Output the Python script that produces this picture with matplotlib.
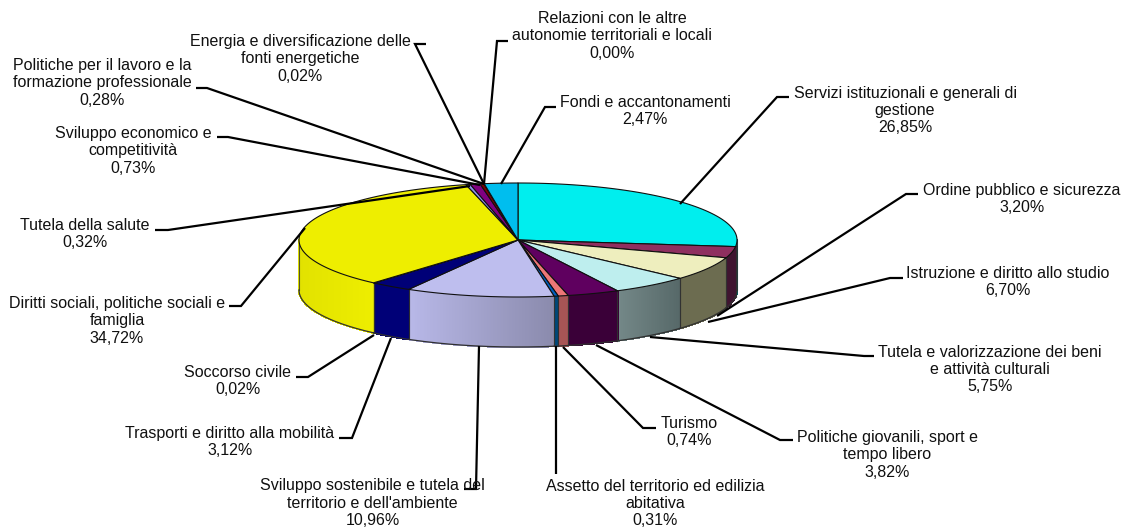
import numpy as np
import matplotlib
matplotlib.use("Agg")
import matplotlib.pyplot as plt
from matplotlib.patches import Polygon
from matplotlib.collections import PolyCollection
from matplotlib.colors import to_rgb

plt.rcParams['font.family'] = ['Liberation Sans', 'DejaVu Sans']

categories = [
    "Servizi istituzionali e generali di\ngestione",
    "Ordine pubblico e sicurezza",
    "Istruzione e diritto allo studio",
    "Tutela e valorizzazione dei beni\ne attività culturali",
    "Politiche giovanili, sport e\ntempo libero",
    "Turismo",
    "Assetto del territorio ed edilizia\nabitativa",
    "Sviluppo sostenibile e tutela del\nterritorio e dell'ambiente",
    "Trasporti e diritto alla mobilità",
    "Soccorso civile",
    "Diritti sociali, politiche sociali e\nfamiglia",
    "Tutela della salute",
    "Sviluppo economico e\ncompetitività",
    "Politiche per il lavoro e la\nformazione professionale",
    "Energia e diversificazione delle\nfonti energetiche",
    "Relazioni con le altre\nautonomie territoriali e locali",
    "Fondi e accantonamenti",
]
values = [26.85, 3.20, 6.70, 5.75, 3.82, 0.74, 0.31, 10.96, 3.12, 0.02,
          34.72, 0.32, 0.73, 0.28, 0.02, 0.00, 2.47]

top_colors = ["#00EEEE", "#8F2F5F", "#EEEEBE", "#BEEEEE", "#5F005F", "#EE7777",
              "#005FBE", "#BEBEEE", "#000077", "#EE00EE", "#EEEE00", "#8F8FEE",
              "#800080", "#800000", "#008080", "#0000EE", "#00BEEE"]
side_left = ["#006868", "#401430", "#6C6C50", "#748888", "#3A0038", "#A85555",
             "#004878", "#B8B8E8", "#000077", "#700070", "#E2E200", "#555590",
             "#500050", "#500000", "#005050", "#000080", "#007090"]
side_right = ["#006868", "#401430", "#6C6C50", "#566868", "#3A0038", "#A85555",
              "#004878", "#8A8AAC", "#000077", "#700070", "#EEEE00", "#555590",
              "#500050", "#500000", "#005050", "#000080", "#007090"]

label_pos = [(905, 110.5), (1022, 199), (1008, 282), (990, 369.5), (887.5, 455),
             (689, 432), (655, 503.5), (372.5, 503), (230, 442), (238, 381),
             (117, 321), (85, 234), (133, 151), (102, 83), (300, 59),
             (612, 36), (645, 111)]
leaders = [
    [(789, 97), (777, 97), (680, 204)],
    [(918, 194), (906, 194), (717, 316)],
    [(903, 278), (890, 278), (708, 322)],
    [(874, 356), (864, 356), (650, 337)],
    [(793, 440), (780, 440), (596, 345)],
    [(656, 428), (643, 428), (563, 347)],
    [(556, 346), (556, 474)],
    [(479, 346), (476, 489), (464, 489)],
    [(339, 438), (352, 438), (391, 338)],
    [(296, 377), (308, 377), (374, 335)],
    [(229, 306), (241, 306), (305, 228)],
    [(155, 230), (168, 230), (470, 186)],
    [(217, 137), (228, 137), (480, 185)],
    [(196, 88), (207, 88), (484, 184)],
    [(426, 44), (415, 44), (484, 184)],
    [(508, 41), (497, 41), (484, 184)],
    [(556, 107), (545, 107), (501, 184)],
]

CX, CY, RX, RY, DEPTH = 518, 240, 219, 57, 50

fig = plt.figure(figsize=(11.31, 5.30), dpi=100, facecolor="white")
ax = fig.add_axes([0, 0, 1, 1])
ax.set_xlim(0, 1131)
ax.set_ylim(530, 0)
ax.axis("off")


def px(t):
    return CX + RX * np.sin(t), CY - RY * np.cos(t)


fracs = np.array(values) / sum(values)
edges = np.concatenate([[0], np.cumsum(fracs)]) * 2 * np.pi

# rim of the pie, only the front half is visible
for i in range(len(values)):
    a = max(edges[i], np.pi / 2)
    b = min(edges[i + 1], 3 * np.pi / 2)
    if b <= a:
        continue
    ts = np.linspace(a, b, max(int((b - a) * 200), 2))
    xs, ys = px(ts)
    polys, cols = [], []
    c0, c1 = np.array(to_rgb(side_left[i])), np.array(to_rgb(side_right[i]))
    xmin, xmax = xs.min(), xs.max()
    for j in range(len(ts) - 1):
        polys.append([(xs[j], ys[j]), (xs[j + 1], ys[j + 1]),
                      (xs[j + 1], ys[j + 1] + DEPTH), (xs[j], ys[j] + DEPTH)])
        f = (0.5 * (xs[j] + xs[j + 1]) - xmin) / max(xmax - xmin, 1e-6)
        cols.append(tuple(c0 + (c1 - c0) * f))
    ax.add_collection(PolyCollection(polys, facecolors=cols, edgecolors=cols,
                                     linewidths=0.8, antialiaseds=False, zorder=2))
    # separators and lower outline
    ax.plot(xs, ys + DEPTH, color="#303030", lw=0.9, zorder=3)
    for k in (0, -1):
        ax.plot([xs[k], xs[k]], [ys[k], ys[k] + DEPTH], color="#303030",
                lw=0.8, alpha=0.8, zorder=3)

# top faces
for i in range(len(values)):
    if edges[i + 1] - edges[i] <= 0:
        continue
    ts = np.linspace(edges[i], edges[i + 1], max(int((edges[i + 1] - edges[i]) * 150), 2))
    xs, ys = px(ts)
    pts = np.column_stack([np.r_[CX, xs], np.r_[CY, ys]])
    ax.add_patch(Polygon(pts, closed=True, facecolor=top_colors[i],
                         edgecolor="#101010", lw=0.8, joinstyle="round", zorder=4))

# leader lines
for pts in leaders:
    xs, ys = zip(*pts)
    ax.plot(xs, ys, color="black", lw=1.6, zorder=5, solid_capstyle="butt",
            solid_joinstyle="miter")

# labels
for name, v, (x, y) in zip(categories, values, label_pos):
    s = f"{name}\n{v:.2f}%".replace(".", ",")
    ax.text(x, y, s, ha="center", va="center", multialignment="center",
            fontsize=11.5, linespacing=1.2, color="#101010", zorder=6)

fig.savefig("out.png", dpi=100, facecolor="white")
